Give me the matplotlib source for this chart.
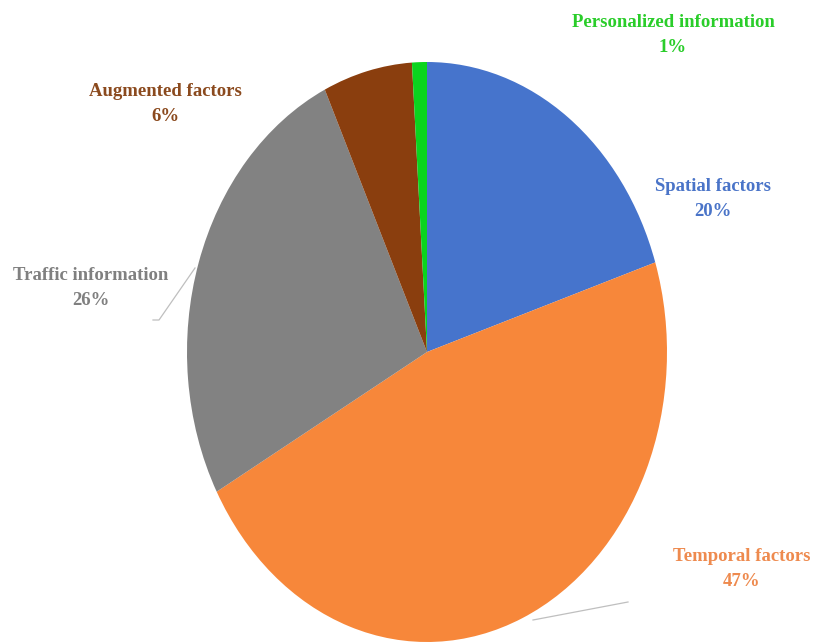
import matplotlib.pyplot as plt

labels = ['Spatial factors', 'Temporal factors', 'Traffic information', 'Augmented factors', 'Personalized information']
values = [20, 47, 26, 6, 1]
colors = ['#4674CC', '#F7873A', '#828282', '#8A3E0E', '#0AD41E']
text_colors = ['#4A74C8', '#EE8A4E', '#808080', '#8B4A1E', '#2ACD2A']

# label positions in pixels (center of the two-line block)
label_px = [(713, 199), (742, 569), (91, 288), (165, 104), (673, 35)]

fig = plt.figure(figsize=(8.14, 6.44), dpi=100)
W, H = 814, 644
cx, cy, rx, ry = 427, 352, 240, 290
ax = fig.add_axes([(cx - rx) / W, (H - cy - ry) / H, 2 * rx / W, 2 * ry / H])
ax.pie(values, colors=colors, startangle=90, counterclock=False,
       wedgeprops=dict(linewidth=0))
ax.set_aspect('auto')
ax.set_xlim(-1, 1)
ax.set_ylim(-1, 1)
ax.axis('off')

def to_data(px, py):
    return (px - cx) / rx, (cy - py) / ry

for lab, v, c, (px, py) in zip(labels, values, text_colors, label_px):
    x, y = to_data(px, py)
    ax.text(x, y, f'{lab}\n{v}%', color=c, ha='center', va='center',
            fontsize=13.5, fontweight='bold', family='Liberation Serif',
            linespacing=1.65, clip_on=False)

# leader lines
for pts in [[(153, 320), (159, 320), (195, 268)], [(533, 620), (628, 602)]]:
    xs, ys = zip(*[to_data(*p) for p in pts])
    ax.plot(xs, ys, color='#BFBFBF', lw=0.9, clip_on=False)

fig.savefig('out.png')
